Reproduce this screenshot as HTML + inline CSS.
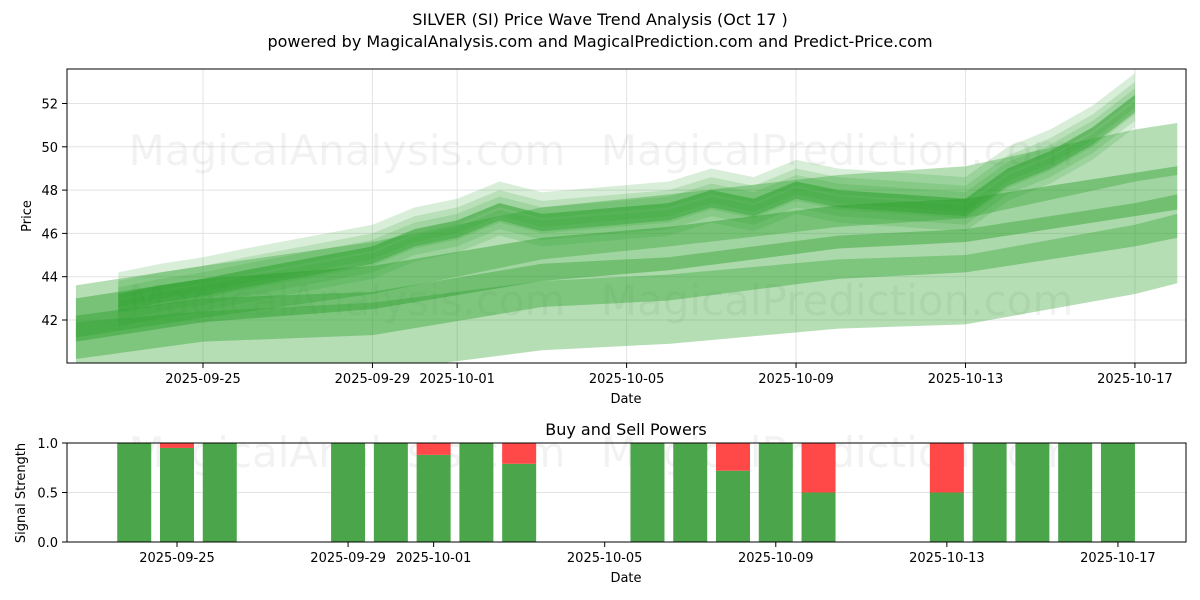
<!DOCTYPE html>
<html><head><meta charset="utf-8"><style>
body{margin:0;background:#fff;}
svg{display:block;font-family:"DejaVu Sans","Liberation Sans",sans-serif;}
</style></head><body>
<svg id="c" width="1200" height="600" viewBox="0 0 1200 600">
<text x="600" y="25" text-anchor="middle" font-size="16">SILVER (SI) Price Wave Trend Analysis (Oct 17 )</text>
<text x="600" y="47" text-anchor="middle" font-size="16">powered by MagicalAnalysis.com and MagicalPrediction.com and Predict-Price.com</text>
<defs>
<clipPath id="cp1"><rect x="67" y="69" width="1119" height="294"/></clipPath>
<clipPath id="cp2"><rect x="67" y="443" width="1119" height="99"/></clipPath>
</defs>
<g id="topPanel"></g>
<g id="botPanel"></g>
</svg>
<script>
// ---- data ----
const tickDays = [3, 7, 9, 13, 17, 21, 25];
const tickLabels = ["2025-09-25","2025-09-29","2025-10-01","2025-10-05","2025-10-09","2025-10-13","2025-10-17"];
const priceTicks = [42, 44, 46, 48, 50, 52];
const bandDays = [0,3,7,11,14,18,21,25,26];
const bandL1 = [40.3,40.8,41.2,42.2,42.5,43.2,43.4,44.8,45.3];
const bandL2 = [41.2,42.0,42.3,43.6,43.9,44.9,45.2,46.4,46.8];
const bandM = [42.0,42.9,43.5,44.8,45.3,46.3,46.6,47.8,48.1];
const bandU2 = [42.4,43.3,44.4,46.0,46.6,47.5,47.9,49.6,49.9];
const priceDays = [1,2,3,4,7,8,9,10,11,14,15,16,17,18,21,22,23,24,25];
const priceVals = [42.8,43.2,43.5,43.9,45.0,45.8,46.2,47.0,46.5,47.0,47.6,47.2,48.0,47.6,47.2,48.6,49.4,50.5,52.0];
const barDays = [2,3,4,7,8,9,10,11,14,15,16,17,18,21,22,23,24,25];
const buyVals = [1,0.95,1,1,1,0.88,1,0.79,1,1,0.72,1,0.5,0.5,1,1,1,1];
const powerTicks = [0, 0.5, 1.0];

const NS="http://www.w3.org/2000/svg";
function mk(tag, attrs, parent){const e=document.createElementNS(NS,tag);for(const k in attrs)e.setAttribute(k,attrs[k]);parent.appendChild(e);return e;}
const topG=document.getElementById('topPanel'), botG=document.getElementById('botPanel');
const xT=d=>203+(d-3)*42.36;
const yT=p=>103.5+(52-p)*21.65;
const xB=d=>177+(d-3)*42.77;
const yB=v=>542-v*99;

tickDays.forEach((d,i)=>{
 const g=mk('line',{x1:xT(d),x2:xT(d),y1:69,y2:363,stroke:'#e3e3e3','stroke-width':1},topG);
 
 
 mk('line',{x1:xT(d),x2:xT(d),y1:363,y2:368,stroke:'#000'},topG);
 const l=mk('text',{x:xT(d),y:383,'text-anchor':'middle','font-size':13},topG);l.textContent=tickLabels[i];
 
 
});
priceTicks.forEach(p=>{
 mk('line',{x1:67,x2:1186,y1:yT(p),y2:yT(p),stroke:'#e3e3e3'},topG);
 mk('line',{x1:62,x2:67,y1:yT(p),y2:yT(p),stroke:'#000'},topG);
 const l=mk('text',{x:58,y:yT(p)+5,'text-anchor':'end','font-size':13},topG);l.textContent=p;
 
 
});
[[347,150,'MagicalAnalysis.com'],[837,150,'MagicalPrediction.com'],[347,300,'MagicalAnalysis.com'],[837,300,'MagicalPrediction.com']].forEach(w=>{
 const t=mk('text',{x:w[0],y:w[1]+15,'text-anchor':'middle','font-size':42,fill:'#000','fill-opacity':0.05},topG);t.textContent=w[2];
 
 
});
const bands=mk('g',{'clip-path':'url(#cp1)'},topG);
function band(days,vals,hw,op,off){
 let up=[],lo=[];
 days.forEach((d,i)=>{up.push(xT(d)+','+yT(vals[i]+off+hw));lo.unshift(xT(d)+','+yT(vals[i]+off-hw));});
 const p=mk('polygon',{points:up.concat(lo).join(' '),fill:'#2ca02c','fill-opacity':op},bands);
 
 
}
band(bandDays,bandL1,1.6,0.35,0);
band(bandDays,bandL2,1.0,0.4,0);
band(bandDays,bandM,1.0,0.45,0);
band(bandDays,bandU2,1.2,0.35,0);
[-0.5,-0.2,0.1,0.4,0.8].forEach(o=>band(priceDays,priceVals,0.6,0.18,o));
band(priceDays,priceVals,0.4,0.4,0);
mk('rect',{x:67,y:69,width:1119,height:294,fill:'none',stroke:'#000','stroke-width':1},topG);
let t=mk('text',{x:626,y:403,'text-anchor':'middle','font-size':13},topG);t.textContent='Date';


t=mk('text',{x:0,y:0,'text-anchor':'middle','font-size':13,transform:'translate(31,216) rotate(-90)'},topG);t.textContent='Price';



t=mk('text',{x:626,y:435,'text-anchor':'middle','font-size':16},botG);t.textContent='Buy and Sell Powers';


powerTicks.forEach(v=>{
 mk('line',{x1:67,x2:1186,y1:yB(v),y2:yB(v),stroke:'#e3e3e3'},botG);
 mk('line',{x1:62,x2:67,y1:yB(v),y2:yB(v),stroke:'#000'},botG);
 const l=mk('text',{x:58,y:yB(v)+5,'text-anchor':'end','font-size':13},botG);l.textContent=v.toFixed(1);
 
 
});
[[347,452,'MagicalAnalysis.com'],[837,452,'MagicalPrediction.com']].forEach(w=>{
 const t=mk('text',{x:w[0],y:w[1]+15,'text-anchor':'middle','font-size':42,fill:'#000','fill-opacity':0.05},botG);t.textContent=w[2];
 
 
});
const bars=mk('g',{'clip-path':'url(#cp2)'},botG);
barDays.forEach((d,i)=>{
 const x=xB(d)-17,w=34,b=buyVals[i];
 const g=mk('rect',{x:x,y:yB(b),width:w,height:yB(0)-yB(b),fill:'#4ba64b'},bars);
 
 
 if(b<1){const r=mk('rect',{x:x,y:yB(1),width:w,height:yB(b)-yB(1),fill:'#ff4848'},bars);
 
 }
});
tickDays.forEach((d,i)=>{
 mk('line',{x1:xB(d),x2:xB(d),y1:542,y2:547,stroke:'#000'},botG);
 const l=mk('text',{x:xB(d),y:562,'text-anchor':'middle','font-size':13},botG);l.textContent=tickLabels[i];
 
 
});
mk('rect',{x:67,y:443,width:1119,height:99,fill:'none',stroke:'#000'},botG);
t=mk('text',{x:626,y:582,'text-anchor':'middle','font-size':13},botG);t.textContent='Date';


t=mk('text',{x:0,y:0,'text-anchor':'middle','font-size':13,transform:'translate(25,493) rotate(-90)'},botG);t.textContent='Signal Strength';


</script>
</body></html>
